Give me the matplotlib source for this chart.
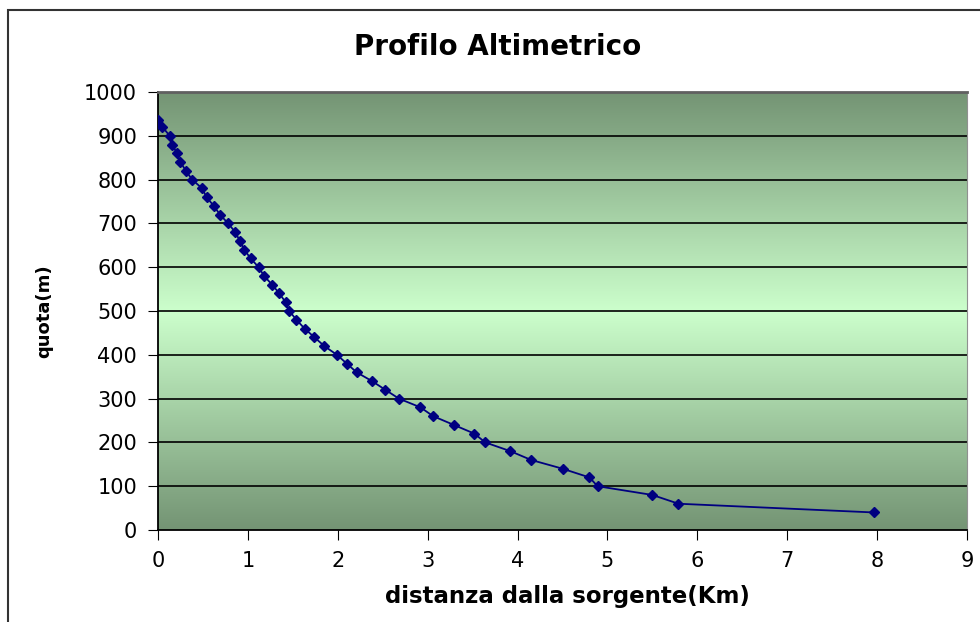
import numpy as np
import matplotlib.pyplot as plt
from matplotlib.colors import LinearSegmentedColormap
from matplotlib.patches import Rectangle

# Dati del profilo
quota = [936, 920, 900, 880, 860, 840, 820, 800, 780, 760, 740, 720, 700,
         680, 660, 640, 620, 600, 580, 560, 540, 520, 500, 480, 460, 440,
         420, 400, 380, 360, 340, 320, 300, 280, 260, 240, 220, 200, 180,
         160, 140, 120, 100, 80, 60, 40]
distanza = [0.00, 0.05, 0.13, 0.16, 0.21, 0.25, 0.31, 0.38, 0.49, 0.54, 0.62,
            0.69, 0.78, 0.86, 0.91, 0.96, 1.03, 1.12, 1.18, 1.27, 1.35, 1.42,
            1.46, 1.54, 1.63, 1.74, 1.85, 1.99, 2.10, 2.21, 2.38, 2.53, 2.68,
            2.92, 3.06, 3.29, 3.52, 3.64, 3.92, 4.15, 4.50, 4.80, 4.89, 5.50,
            5.79, 7.97]

plt.rcParams['font.family'] = ['DejaVu Sans']

fig = plt.figure(figsize=(9.8, 6.22), dpi=100)
ax = fig.add_axes([158 / 980, 1 - 530 / 622, 809 / 980, 438 / 622])

# cornice esterna
fig.patches.append(Rectangle((8 / 980, -0.1), 1.2, 1 - 10 / 622 + 0.1,
                             transform=fig.transFigure, fill=False,
                             edgecolor='#333333', linewidth=1.5))

# sfondo sfumato
cmap = LinearSegmentedColormap.from_list('verde', ['#749474', '#CCFFCC', '#749474'])
grad = np.linspace(0, 1, 256).reshape(-1, 1)
ax.imshow(grad, cmap=cmap, aspect='auto', extent=[0, 1, 0, 1],
          transform=ax.transAxes, zorder=0)

ax.set_xlim(0, 9)
ax.set_ylim(0, 1000)
ax.set_xticks(range(0, 10))
ax.set_yticks(range(0, 1001, 100))
for y in range(100, 1000, 100):
    ax.axhline(y, color='black', linewidth=1.2, zorder=1)

ax.plot(distanza, quota, color='#000080', linewidth=1.3, marker='D',
        markersize=5, zorder=3)

ax.tick_params(axis='both', direction='out', length=7, labelsize=15,
               color='black')
ax.tick_params(axis='y', pad=8)
ax.tick_params(axis='x', pad=8)
ax.spines['top'].set_color('#606060')
ax.spines['top'].set_linewidth(2)
ax.spines['right'].set_color('#909090')
ax.spines['left'].set_linewidth(1.3)
ax.spines['bottom'].set_linewidth(1.3)

fig.text(498 / 980, 1 - 47 / 622, 'Profilo Altimetrico', ha='center',
         va='center', fontsize=20, fontweight='bold')
fig.text(567 / 980, 1 - 596 / 622, 'distanza dalla sorgente(Km)', ha='center',
         va='center', fontsize=16.5, fontweight='bold')
fig.text(44 / 980, 1 - 311 / 622, 'quota(m)', ha='center', va='center',
         rotation=90, fontsize=13, fontweight='bold')

fig.savefig('out.png', dpi=100)
